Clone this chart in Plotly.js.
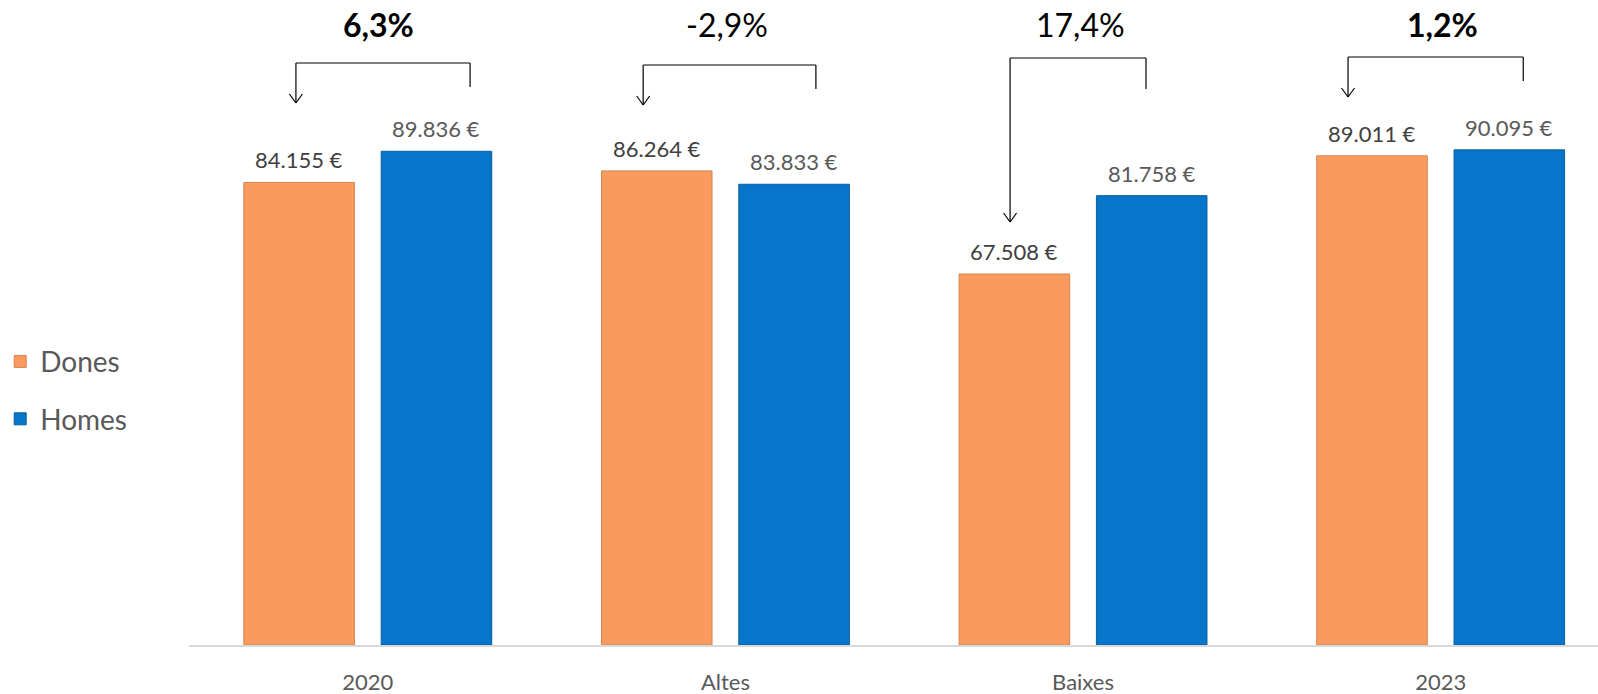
<!DOCTYPE html>
<html>
<head>
<meta charset="utf-8">
<script src="https://cdn.plot.ly/plotly-3.0.1.min.js"></script>
<style>html,body{margin:0;padding:0;background:#fff;}#chart{width:1598px;height:694px;}</style>
</head>
<body>
<div id="chart"></div>
<script>
// ---- data ----
const categories = ['2020', 'Altes', 'Baixes', '2023'];
const dones = [84155, 86264, 67508, 89011];
const homes = [89836, 83833, 81758, 90095];
const gapLabels = ['6,3%', '-2,9%', '17,4%', '1,2%'];
const gapBold = [true, false, false, true];

// ---- bracket decorations (category-unit offsets, pixel heights from top) ----
const brLeft  = [-0.201, -0.230, -0.204, -0.259];
const brRight = [ 0.286,  0.253,  0.176,  0.231];
const brTop   = [63, 65, 58, 57];
const brLeftEnd  = [103, 105, 222, 97];
const brRightEnd = [87, 89, 89, 81];
const pctOffset = [0.031, 0.004, -0.008, 0.004];

const PLOT_H = 645;
const py = p => (PLOT_H - p) / PLOT_H;
const fmt = v => String(v).replace(/\B(?=(\d{3})+(?!\d))/g, '.') + ' €';

const traces = [
  {
    type: 'bar', name: 'Dones', legendgroup: 'd', x: categories, y: dones,
    marker: {color: '#F99B5F', line: {color: '#D8844F', width: 1}},
    hoverinfo: 'skip'
  },
  {
    type: 'bar', name: 'Homes', legendgroup: 'h', x: categories, y: homes,
    marker: {color: '#0675CA', line: {color: '#0A5E9E', width: 1}},
    hoverinfo: 'skip'
  }
];

const annotations = [];
const shapes = [];
const lineStyle = {color: '#000000', width: 1.2};
categories.forEach((c, i) => {
  annotations.push({x: i - 0.192, y: dones[i], xref: 'x', yref: 'y', text: fmt(dones[i]),
    showarrow: false, yanchor: 'bottom', yshift: 7, font: {size: 22, color: '#404040'}});
  annotations.push({x: i + 0.192, y: homes[i], xref: 'x', yref: 'y', text: fmt(homes[i]),
    showarrow: false, yanchor: 'bottom', yshift: 7, font: {size: 22, color: '#595959'}});
  annotations.push({x: i + pctOffset[i], y: py(25), xref: 'x', yref: 'paper',
    text: gapBold[i] ? '<b>' + gapLabels[i] + '</b>' : gapLabels[i],
    showarrow: false, yanchor: 'middle', font: {size: 32, color: '#000000'}});

  const xl = i + brLeft[i], xr = i + brRight[i];
  shapes.push({type: 'line', xref: 'x', yref: 'paper', x0: xl, x1: xl, y0: py(brTop[i]), y1: py(brLeftEnd[i]), line: lineStyle});
  shapes.push({type: 'line', xref: 'x', yref: 'paper', x0: xl, x1: xr, y0: py(brTop[i]), y1: py(brTop[i]), line: lineStyle});
  shapes.push({type: 'line', xref: 'x', yref: 'paper', x0: xr, x1: xr, y0: py(brTop[i]), y1: py(brRightEnd[i]), line: lineStyle});
  const hw = 6.5 / 357.6;
  shapes.push({type: 'line', xref: 'x', yref: 'paper', x0: xl - hw, x1: xl, y0: py(brLeftEnd[i] - 9), y1: py(brLeftEnd[i]), line: lineStyle});
  shapes.push({type: 'line', xref: 'x', yref: 'paper', x0: xl + hw, x1: xl, y0: py(brLeftEnd[i] - 9), y1: py(brLeftEnd[i]), line: lineStyle});
});

const layout = {
  width: 1598, height: 694,
  margin: {l: 189, r: 0, t: 0, b: 49},
  paper_bgcolor: '#ffffff', plot_bgcolor: '#ffffff',
  font: {family: 'Lato, "Open Sans", sans-serif', color: '#595959'},
  barmode: 'group', bargap: 0.232, bargroupgap: 0.195,
  showlegend: true,
  legend: {x: -0.134, xanchor: 'left', y: 0.395, yanchor: 'middle',
    traceorder: 'grouped', tracegroupgap: 18,
    font: {size: 28, color: '#595959'}, bgcolor: 'rgba(0,0,0,0)'},
  xaxis: {type: 'category', range: [-0.5, 3.44], showline: true, linecolor: '#D9D9D9', linewidth: 2,
    ticks: '', showgrid: false, zeroline: false, ticklabelstandoff: 17,
    tickfont: {size: 22, color: '#595959'}, fixedrange: true},
  yaxis: {visible: false, range: [0, 117360], showgrid: false, zeroline: false, fixedrange: true},
  annotations: annotations,
  shapes: shapes
};

Plotly.newPlot('chart', traces, layout, {displayModeBar: false, staticPlot: true});
</script>
</body>
</html>
